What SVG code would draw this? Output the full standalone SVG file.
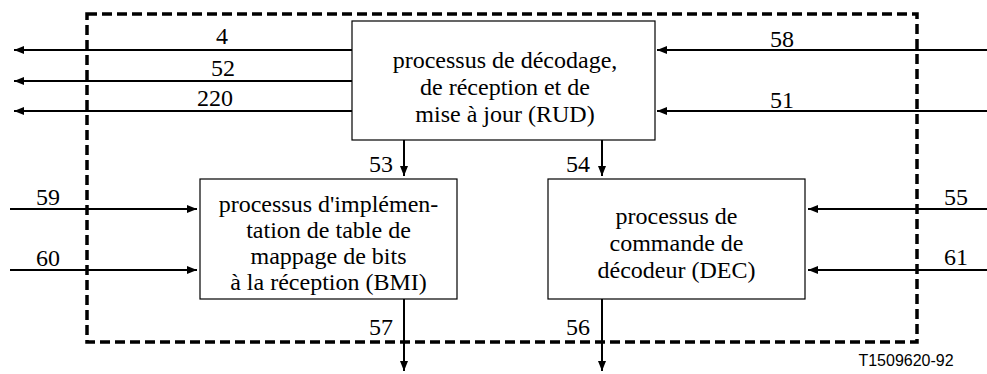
<svg xmlns="http://www.w3.org/2000/svg" width="987" height="374" viewBox="0 0 987 374" font-family="Liberation Serif" font-size="24">
<style>
text{font-family:"Liberation Serif",serif;font-size:24px;fill:#000}
.m{text-anchor:middle}
.e{text-anchor:end}
.box{fill:#fff;stroke:#000;stroke-width:1.2}
.ln{stroke:#000;stroke-width:2;fill:none}
.ref{font-family:"Liberation Sans",sans-serif;font-size:16px}
</style>
<defs>
<marker id="ah" markerWidth="10" markerHeight="8" refX="10" refY="4" orient="auto" markerUnits="userSpaceOnUse">
<path d="M0,0 L10,4 L0,8 Z" fill="#000"/>
</marker>
</defs>
<rect x="87" y="14" width="830" height="328" fill="none" stroke="#000" stroke-width="3.5" stroke-dasharray="10 5"/>
<g id="connectors">
<line class="ln" x1="352" y1="50" x2="14" y2="50" marker-end="url(#ah)"/>
<line class="ln" x1="352" y1="81" x2="14" y2="81" marker-end="url(#ah)"/>
<line class="ln" x1="352" y1="111" x2="14" y2="111" marker-end="url(#ah)"/>
<line class="ln" x1="987" y1="50" x2="657" y2="50" marker-end="url(#ah)"/>
<line class="ln" x1="987" y1="111" x2="657" y2="111" marker-end="url(#ah)"/>
<line class="ln" x1="404" y1="140" x2="404" y2="176" marker-end="url(#ah)"/>
<line class="ln" x1="602" y1="140" x2="602" y2="176" marker-end="url(#ah)"/>
<line class="ln" x1="10" y1="209" x2="197" y2="209" marker-end="url(#ah)"/>
<line class="ln" x1="10" y1="270" x2="197" y2="270" marker-end="url(#ah)"/>
<line class="ln" x1="987" y1="209" x2="808" y2="209" marker-end="url(#ah)"/>
<line class="ln" x1="987" y1="270" x2="808" y2="270" marker-end="url(#ah)"/>
<line class="ln" x1="404" y1="299" x2="404" y2="371" marker-end="url(#ah)"/>
<line class="ln" x1="602" y1="299" x2="602" y2="371" marker-end="url(#ah)"/>
</g>
<text class="m" x="222" y="44">4</text>
<text class="m" x="223" y="76">52</text>
<text class="m" x="215" y="106">220</text>
<text class="m" x="782" y="47">58</text>
<text class="m" x="782" y="108">51</text>
<text class="e" x="393" y="172">53</text>
<text class="e" x="590" y="172">54</text>
<text class="m" x="48" y="205">59</text>
<text class="m" x="48" y="266">60</text>
<text class="m" x="956" y="205">55</text>
<text class="m" x="956" y="265">61</text>
<text class="e" x="393" y="335">57</text>
<text class="e" x="590" y="335">56</text>
<g id="RUD">
<rect class="box" x="352" y="21" width="303" height="119"/>
<text class="m" x="505" y="68">processus de décodage,</text>
<text class="m" x="505" y="95">de réception et de</text>
<text class="m" x="505" y="122">mise à jour (RUD)</text>
</g>
<g id="BMI">
<rect class="box" x="200" y="179" width="257" height="120"/>
<text class="m" x="328.5" y="212">processus d'implémen-</text>
<text class="m" x="328.5" y="238">tation de table de</text>
<text class="m" x="328.5" y="264">mappage de bits</text>
<text class="m" x="328.5" y="290">à la réception (BMI)</text>
</g>
<g id="DEC">
<rect class="box" x="548" y="179" width="257" height="120"/>
<text class="m" x="676.5" y="224">processus de</text>
<text class="m" x="676.5" y="251">commande de</text>
<text class="m" x="676.5" y="278">décodeur (DEC)</text>
</g>
<text class="ref m" x="906" y="366">T1509620-92</text>
</svg>
